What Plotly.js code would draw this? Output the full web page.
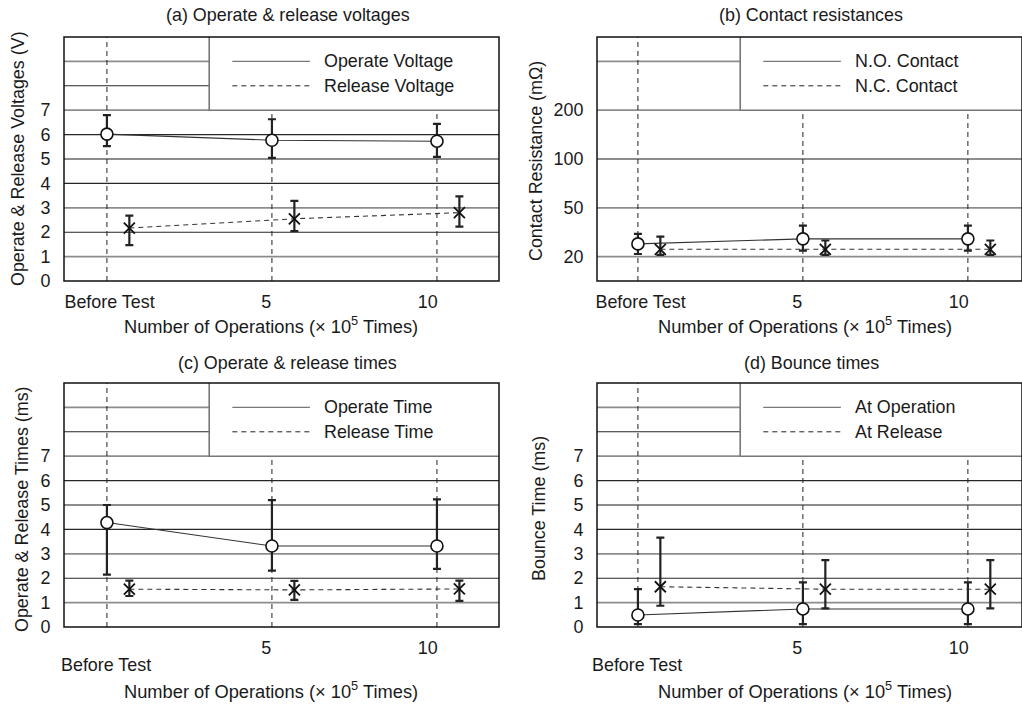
<!DOCTYPE html>
<html><head><meta charset="utf-8">
<script src="https://cdn.plot.ly/plotly-3.0.1.min.js"></script>
<style>html,body{margin:0;padding:0;background:#fff}</style>
</head><body><div id="chart" style="width:1022px;height:704px"></div>
<script>
// ---------------- data ----------------
const operations = [0, 5, 10];
const xTickText = ['Before Test', '5', '10'];

// (a) Operate & release voltages (V)
const operateVoltage   = [6.02, 5.77, 5.73];
const operateVoltageHi = [6.80, 6.63, 6.44];
const operateVoltageLo = [5.53, 5.05, 5.09];
const releaseVoltage   = [2.17, 2.55, 2.80];
const releaseVoltageHi = [2.68, 3.28, 3.47];
const releaseVoltageLo = [1.47, 2.05, 2.23];

// (b) Contact resistances (mOhm)
const noContact   = [27.8, 30.9, 30.9];
const noContactHi = [34.0, 39.1, 39.1];
const noContactLo = [21.6, 23.7, 23.7];
const ncContact   = [24.5, 24.5, 24.5];
const ncContactHi = [32.3, 29.9, 29.9];
const ncContactLo = [21.0, 21.0, 21.0];
const resistanceTicks = [20, 50, 100, 200];

// (c) Operate & release times (ms)
const operateTime   = [4.28, 3.32, 3.32];
const operateTimeHi = [5.00, 5.20, 5.23];
const operateTimeLo = [2.15, 2.31, 2.38];
const releaseTime   = [1.55, 1.52, 1.56];
const releaseTimeHi = [1.90, 1.89, 1.90];
const releaseTimeLo = [1.27, 1.11, 1.07];

// (d) Bounce times (ms)
const bounceOperate   = [0.49, 0.74, 0.74];
const bounceOperateHi = [1.55, 1.83, 1.83];
const bounceOperateLo = [0.12, 0.12, 0.12];
const bounceRelease   = [1.65, 1.55, 1.55];
const bounceReleaseHi = [3.66, 2.74, 2.74];
const bounceReleaseLo = [0.87, 0.76, 0.76];

const linearTicks = [0, 1, 2, 3, 4, 5, 6, 7];

// ---------------- style / layout constants ----------------
const W = 1022, H = 704;
const FONT = 'Liberation Sans, Arial, sans-serif';
const FS = 17.9;
const TXT = '#1a1a1a';
const OFFSET = 0.68;                  // horizontal offset of 2nd series
const TICK_SHIFT = [0.08, -0.17, -0.28];
const RES_POS = [1, 3, 5, 7];         // axis slots of resistance ticks
const LEG_X0 = 3.1, LEG_L0 = 3.8, LEG_L1 = 6.15, LEG_T = 6.52;

function P(px, py) { return {x: px / W, y: 1 - py / H}; }

function resPos(v) {
  const t = resistanceTicks, p = RES_POS;
  let i = 0;
  if (v >= t[t.length - 1]) i = t.length - 2;
  else { while (i < t.length - 2 && v > t[i + 1]) i++; }
  return p[i] + (v - t[i]) / (t[i + 1] - t[i]) * (p[i + 1] - p[i]);
}

const panels = [
  {id: '', title: '(a) Operate & release voltages', ytitle: 'Operate & Release Voltages (V)',
   xd: [64, 499], yd: [37, 281], xr: [-1.3, 11.88],
   titleAt: [288, 15], ytAt: [18, 159], xtAt: [271, 325],
   s1: [operateVoltage, operateVoltageHi, operateVoltageLo, 'Operate Voltage'],
   s2: [releaseVoltage, releaseVoltageHi, releaseVoltageLo, 'Release Voltage'],
   map: v => v, yt: linearTicks, ytt: linearTicks.map(String), grid: [1,2,3,4,5,6,7,8,9], lowBefore: false},
  {id: '2', title: '(b) Contact resistances', ytitle: 'Contact Resistance (m\u03A9)',
   xd: [597, 1022], yd: [37, 281], xr: [-1.24, 11.64],
   titleAt: [811, 15], ytAt: [536, 161], xtAt: [805, 325],
   s1: [noContact, noContactHi, noContactLo, 'N.O. Contact'],
   s2: [ncContact, ncContactHi, ncContactLo, 'N.C. Contact'],
   map: resPos, yt: RES_POS, ytt: resistanceTicks.map(String), grid: [1,3,5,7,9], lowBefore: false},
  {id: '3', title: '(c) Operate & release times', ytitle: 'Operate & Release Times (ms)',
   xd: [64, 499], yd: [383, 627], xr: [-1.3, 11.88],
   titleAt: [287, 363], ytAt: [22, 509], xtAt: [271, 690],
   s1: [operateTime, operateTimeHi, operateTimeLo, 'Operate Time'],
   s2: [releaseTime, releaseTimeHi, releaseTimeLo, 'Release Time'],
   map: v => v, yt: linearTicks, ytt: linearTicks.map(String), grid: [1,2,3,4,5,6,7,8,9], lowBefore: true},
  {id: '4', title: '(d) Bounce times', ytitle: 'Bounce Time (ms)',
   xd: [597, 1022], yd: [383, 627], xr: [-1.24, 11.64],
   titleAt: [811, 363], ytAt: [539, 509], xtAt: [805, 690],
   s1: [bounceOperate, bounceOperateHi, bounceOperateLo, 'At Operation'],
   s2: [bounceRelease, bounceReleaseHi, bounceReleaseLo, 'At Release'],
   map: v => v, yt: linearTicks, ytt: linearTicks.map(String), grid: [1,2,3,4,5,6,7,8,9], lowBefore: true}
];

const traces = [], shapes = [], annotations = [];
const layout = {
  width: W, height: H, margin: {l: 0, r: 0, t: 0, b: 0},
  paper_bgcolor: '#fff', plot_bgcolor: '#fff', showlegend: false,
  font: {family: FONT, size: FS, color: TXT}
};

function mkTrace(xa, ya, xs, ys, hi, lo, map, name, isSecond) {
  const y = ys.map(map);
  return {
    type: 'scatter', mode: 'lines+markers', name: name,
    xaxis: xa, yaxis: ya,
    x: xs.map(v => v + (isSecond ? OFFSET : 0)), y: y,
    line: isSecond ? {color: '#333', width: 1.1, dash: '5px,4px'} : {color: '#333', width: 1.1},
    marker: isSecond
      ? {symbol: 'x-thin-open', size: 11, color: '#111', line: {color: '#111', width: 1.8}}
      : {symbol: 'circle', size: 12, color: '#fff', line: {color: '#111', width: 1.6}},
    error_y: {type: 'data', symmetric: false,
      array: hi.map((h, i) => map(h) - y[i]),
      arrayminus: lo.map((l, i) => y[i] - map(l)),
      color: '#222', thickness: 2.2, width: 4},
    cliponaxis: false, hoverinfo: 'skip'
  };
}

panels.forEach(p => {
  const xa = 'x' + p.id, ya = 'y' + p.id;
  const xk = 'xaxis' + p.id, yk = 'yaxis' + p.id;
  const tv = p.lowBefore ? operations.slice(1).map((v, i) => v + TICK_SHIFT[i + 1]) : operations.map((v, i) => v + TICK_SHIFT[i]);
  const tt = p.lowBefore ? xTickText.slice(1) : xTickText;
  layout[xk] = {
    domain: [p.xd[0] / W, Math.min(1, p.xd[1] / W)], range: p.xr, anchor: ya,
    tickvals: tv, ticktext: tt, showgrid: false, zeroline: false, showline: false,
    ticks: 'outside', ticklen: 5, tickcolor: 'rgba(0,0,0,0)',
    tickfont: {family: FONT, size: FS, color: TXT}, fixedrange: true
  };
  layout[yk] = {
    domain: [1 - p.yd[1] / H, 1 - p.yd[0] / H], range: [0, 10], anchor: xa,
    tickvals: p.yt, ticktext: p.ytt, showgrid: false, zeroline: false, showline: false,
    ticks: 'outside', ticklen: 9, tickcolor: 'rgba(0,0,0,0)',
    tickfont: {family: FONT, size: FS, color: TXT}, fixedrange: true
  };
  // horizontal grid lines (odd slots gray, even slots dark)
  p.grid.forEach(g => {
    const odd = g % 2 === 1;
    shapes.push({type: 'line', layer: 'below', xref: xa + ' domain', x0: 0, x1: 1, yref: ya, y0: g, y1: g,
      line: {color: odd ? '#8c8c8c' : '#262626', width: odd ? 1.8 : 1.1}});
  });
  // vertical dashed lines at each operation count
  operations.forEach(o => {
    shapes.push({type: 'line', layer: 'below', xref: xa, x0: o, x1: o, yref: ya + ' domain', y0: 0, y1: 1,
      line: {color: '#222', width: 1, dash: '5px,4px'}});
  });
  // legend box
  shapes.push({type: 'rect', layer: 'below', xref: xa, x0: LEG_X0, x1: p.xr[1] + 1, yref: ya, y0: 7, y1: 10.5,
    fillcolor: '#fff', line: {color: '#777', width: 1.6}});
  shapes.push({type: 'line', layer: 'below', xref: xa, x0: LEG_L0, x1: LEG_L1, yref: ya, y0: 9, y1: 9,
    line: {color: '#777', width: 1.4}});
  shapes.push({type: 'line', layer: 'below', xref: xa, x0: LEG_L0, x1: LEG_L1, yref: ya, y0: 8, y1: 8,
    line: {color: '#222', width: 1, dash: '5px,4px'}});
  annotations.push({xref: xa, yref: ya, x: LEG_T, y: 9, text: p.s1[3], showarrow: false, xanchor: 'left', yanchor: 'middle', font: {family: FONT, size: FS, color: TXT}});
  annotations.push({xref: xa, yref: ya, x: LEG_T, y: 8, text: p.s2[3], showarrow: false, xanchor: 'left', yanchor: 'middle', font: {family: FONT, size: FS, color: TXT}});
  // frame
  shapes.push({type: 'rect', layer: 'above', xref: xa + ' domain', x0: 0, x1: 1, yref: ya + ' domain', y0: 0, y1: 1,
    line: {color: '#111', width: 1.5}});
  // traces
  traces.push(mkTrace(xa, ya, operations, p.s1[0], p.s1[1], p.s1[2], p.map, p.s1[3], false));
  traces.push(mkTrace(xa, ya, operations, p.s2[0], p.s2[1], p.s2[2], p.map, p.s2[3], true));
  // titles
  const t = P(p.titleAt[0], p.titleAt[1]);
  annotations.push({xref: 'paper', yref: 'paper', x: t.x, y: t.y, text: p.title, showarrow: false, xanchor: 'center', yanchor: 'middle', font: {family: FONT, size: FS, color: TXT}});
  const yt = P(p.ytAt[0], p.ytAt[1]);
  annotations.push({xref: 'paper', yref: 'paper', x: yt.x, y: yt.y, text: p.ytitle, textangle: -90, showarrow: false, xanchor: 'center', yanchor: 'middle', font: {family: FONT, size: FS, color: TXT}});
  const xt = P(p.xtAt[0], p.xtAt[1]);
  annotations.push({xref: 'paper', yref: 'paper', x: xt.x, y: xt.y, text: 'Number of Operations (\u00D7 10<sup>5</sup> Times)', showarrow: false, xanchor: 'center', yanchor: 'middle', font: {family: FONT, size: FS + 0.4, color: TXT}});
  if (p.lowBefore) {
    annotations.push({xref: xa, yref: 'paper', x: operations[0] + TICK_SHIFT[0] - 0.1, y: 1 - 665 / H, text: xTickText[0], showarrow: false, xanchor: 'center', yanchor: 'middle', font: {family: FONT, size: FS, color: TXT}});
  }
});

layout.shapes = shapes;
layout.annotations = annotations;
Plotly.newPlot('chart', traces, layout, {displayModeBar: false, staticPlot: true});
</script>
</body></html>
